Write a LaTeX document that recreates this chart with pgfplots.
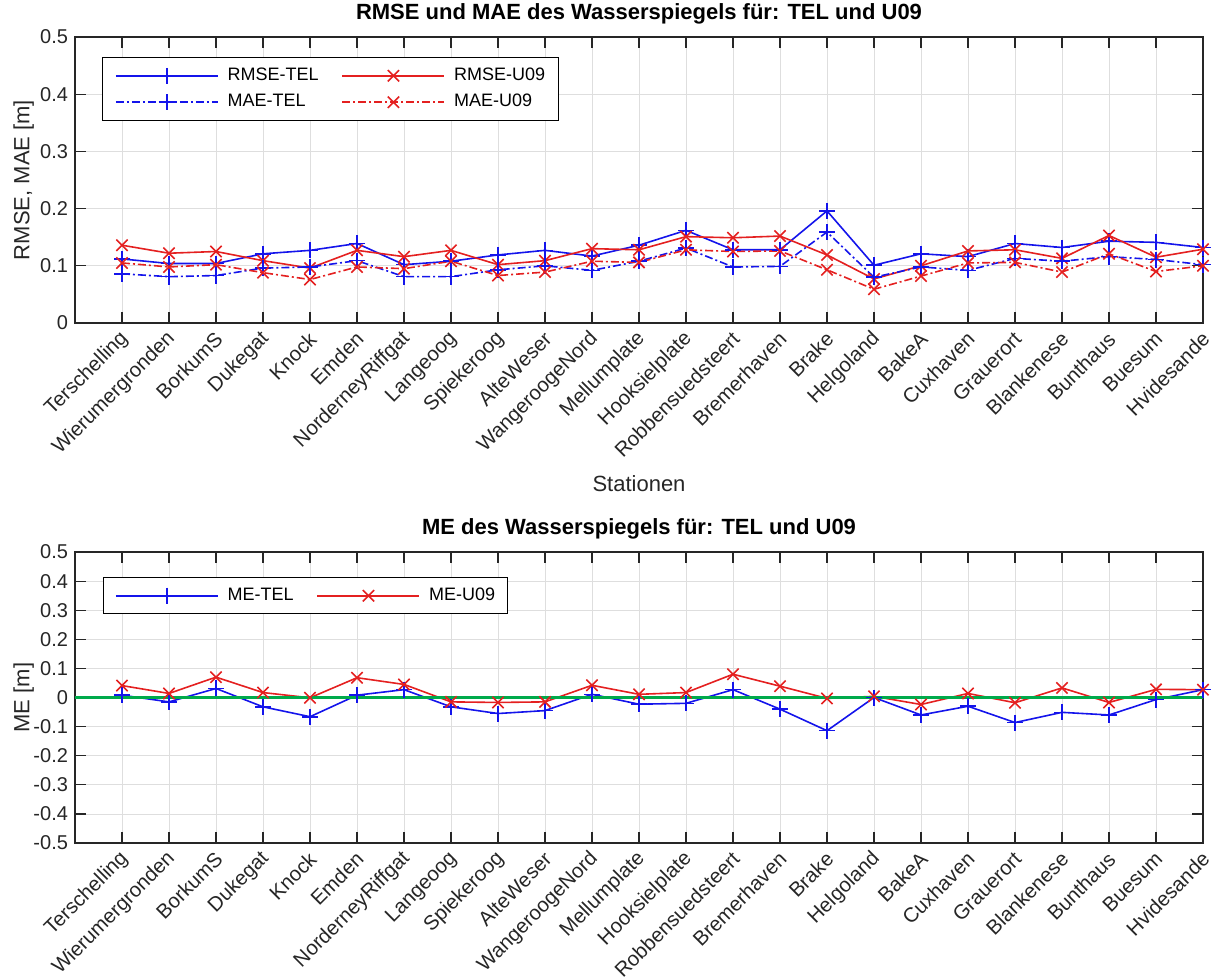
\documentclass[border=0pt]{standalone}
\usepackage{pgfplots}
\pgfplotsset{compat=1.18}
\usepackage{fontspec}
\setmainfont{Liberation Sans}

\definecolor{mblue}{RGB}{20,20,235}
\definecolor{mred}{RGB}{228,32,32}
\definecolor{mgreen}{RGB}{0,170,75}
\definecolor{axgray}{gray}{0.15}

\pgfplotsset{
  legstyle/.style={
    legend style={font=\fontsize{9}{10}\selectfont,
      anchor=north west, inner xsep=6pt, inner ysep=5pt, row sep=5pt,
      nodes={inner sep=0pt, anchor=west},
      /tikz/every odd column/.append style={column sep=4.5pt},
      /tikz/every even column/.append style={column sep=11.5pt}},
    legend cell align=left,
    legend columns=2,
  },
  stationaxis/.style={
    scale only axis, width=564pt,
    xmin=0, xmax=24,
    xtick={1,...,24},
    xticklabels={Terschelling,Wierumergronden,BorkumS,Dukegat,Knock,Emden,NorderneyRiffgat,Langeoog,Spiekeroog,AlteWeser,WangeroogeNord,Mellumplate,Hooksielplate,Robbensuedsteert,Bremerhaven,Brake,Helgoland,BakeA,Cuxhaven,Grauerort,Blankenese,Bunthaus,Buesum,Hvidesande},
    xticklabel style={rotate=45, anchor=east, yshift=-5.5pt, font=\fontsize{10.2}{12}\selectfont, text=axgray},
    yticklabel style={font=\fontsize{10}{12}\selectfont, text=axgray},
    grid=major,
    major grid style={draw=black!13, line width=0.4pt},
    axis line style={draw=axgray, line width=0.6pt},
    major tick length=5.5pt,
    every tick/.style={draw=axgray, line width=0.6pt},
    tick align=inside,
    title style={font=\bfseries\fontsize{11}{13}\selectfont, at={(0.5,1)}, anchor=base, yshift=3pt},
    ylabel style={font=\fontsize{11}{13}\selectfont, text=axgray, at={(axis description cs:-0.0455,0.5)}, anchor=center},
    legstyle,
  },
  % Overlay-Achse nur fuer eine Legendenzeile
  legrow/.style={scale only axis, width=564pt, height=143pt, hide axis,
    xmin=0, xmax=1, ymin=0, ymax=1, xtick=\empty, ytick=\empty,
    legstyle, legend style={draw=none, fill=none}},
  % Legendensymbole: lange Linie mit Marker in der Mitte
  leg tel/.style={legend image code/.code={%
    \draw[draw=mblue, line width=0.8pt] (0pt,0pt) -- (51pt,0pt);
    \path plot[mark=+, mark size=4pt, mark options={draw=mblue, line width=0.8pt, solid}] coordinates {(25.5pt,0pt)};}},
  leg u09/.style={legend image code/.code={%
    \draw[draw=mred, line width=0.8pt] (0pt,0pt) -- (51pt,0pt);
    \path plot[mark=x, mark size=4pt, mark options={draw=mred, line width=0.8pt, solid}] coordinates {(25.5pt,0pt)};}},
  leg tel dd/.style={legend image code/.code={%
    \draw[draw=mblue, line width=0.8pt, dash pattern=on 4pt off 1.5pt on 1pt off 1.5pt] (0pt,0pt) -- (51pt,0pt);
    \path plot[mark=+, mark size=4pt, mark options={draw=mblue, line width=0.8pt, solid}] coordinates {(25.5pt,0pt)};}},
  leg u09 dd/.style={legend image code/.code={%
    \draw[draw=mred, line width=0.8pt, dash pattern=on 4pt off 1.5pt on 1pt off 1.5pt] (0pt,0pt) -- (51pt,0pt);
    \path plot[mark=x, mark size=4pt, mark options={draw=mred, line width=0.8pt, solid}] coordinates {(25.5pt,0pt)};}},
}

\begin{document}
\begin{tikzpicture}
\useasboundingbox (-37.5pt,-328.5pt) rectangle (576pt,161.5pt);

% oben: RMSE und MAE
\begin{axis}[stationaxis, name=top, at={(0,0)}, anchor=south west, height=143pt,
  ymin=0, ymax=0.5,
  ytick={0,0.1,0.2,0.3,0.4,0.5}, yticklabels={0,0.1,0.2,0.3,0.4,0.5},
  title={RMSE und MAE des Wasserspiegels für: TEL und U09},
  xlabel={Stationen},
  xlabel style={font=\fontsize{11}{13}\selectfont, text=axgray, at={(axis description cs:0.5,-0.56)}, anchor=center},
  ylabel={RMSE, MAE [m]}]
\addplot[color=mblue, line width=0.8pt, mark=+, mark size=4pt, mark options={solid}] coordinates {
 (1,0.112) (2,0.104) (3,0.104) (4,0.121) (5,0.127) (6,0.139) (7,0.102) (8,0.108)
 (9,0.119) (10,0.127) (11,0.117) (12,0.136) (13,0.162) (14,0.128) (15,0.128) (16,0.196)
 (17,0.101) (18,0.121) (19,0.116) (20,0.139) (21,0.132) (22,0.143) (23,0.141) (24,0.132)};
\addplot[color=mred, line width=0.8pt, mark=x, mark size=4pt, mark options={solid}] coordinates {
 (1,0.136) (2,0.122) (3,0.125) (4,0.109) (5,0.096) (6,0.127) (7,0.116) (8,0.127)
 (9,0.102) (10,0.109) (11,0.130) (12,0.128) (13,0.151) (14,0.149) (15,0.152) (16,0.119)
 (17,0.077) (18,0.100) (19,0.126) (20,0.128) (21,0.113) (22,0.153) (23,0.115) (24,0.129)};
\addplot[color=mblue, line width=0.8pt, dash pattern=on 4pt off 1.5pt on 1pt off 1.5pt, mark=+, mark size=4pt, mark options={solid}] coordinates {
 (1,0.086) (2,0.081) (3,0.083) (4,0.096) (5,0.098) (6,0.109) (7,0.081) (8,0.081)
 (9,0.093) (10,0.100) (11,0.092) (12,0.108) (13,0.131) (14,0.098) (15,0.099) (16,0.159)
 (17,0.080) (18,0.098) (19,0.092) (20,0.113) (21,0.108) (22,0.116) (23,0.111) (24,0.102)};
\addplot[color=mred, line width=0.8pt, dash pattern=on 4pt off 1.5pt on 1pt off 1.5pt, mark=x, mark size=4pt, mark options={solid}] coordinates {
 (1,0.105) (2,0.098) (3,0.102) (4,0.088) (5,0.076) (6,0.098) (7,0.095) (8,0.108)
 (9,0.083) (10,0.089) (11,0.108) (12,0.106) (13,0.128) (14,0.125) (15,0.126) (16,0.093)
 (17,0.059) (18,0.082) (19,0.105) (20,0.106) (21,0.089) (22,0.121) (23,0.090) (24,0.100)};
\end{axis}

% Legendenrahmen oben, dann zwei einzeilige Legenden darueber
\draw[black, line width=0.4pt, fill=white]
  ([xshift=13.8pt,yshift=-10pt]top.north west) rectangle ([xshift=241.8pt,yshift=-41.5pt]top.north west);
\begin{axis}[legrow, at={(0,0)}, anchor=south west,
  legend style={at={(axis description cs:0.0245,0.9287)}}]
\addlegendimage{leg tel}\addlegendentry{\makebox[45.5pt][l]{RMSE-TEL}}
\addlegendimage{leg u09}\addlegendentry{RMSE-U09}
\end{axis}
\begin{axis}[legrow, at={(0,0)}, anchor=south west,
  legend style={at={(axis description cs:0.0245,0.8364)}}]
\addlegendimage{leg tel dd}\addlegendentry{\makebox[45.5pt][l]{MAE-TEL}}
\addlegendimage{leg u09 dd}\addlegendentry{MAE-U09}
\end{axis}

% unten: ME
\begin{axis}[stationaxis, name=bottom, at={(0,-260pt)}, anchor=south west, height=145.5pt,
  ymin=-0.5, ymax=0.5,
  ytick={-0.5,-0.4,-0.3,-0.2,-0.1,0,0.1,0.2,0.3,0.4,0.5},
  yticklabels={-0.5,-0.4,-0.3,-0.2,-0.1,0,0.1,0.2,0.3,0.4,0.5},
  title={ME des Wasserspiegels für: TEL und U09},
  ylabel={ME [m]},
  legend style={at={(axis description cs:0.0245,0.913)}}]
\addplot[forget plot, color=mblue, line width=0.8pt, mark=+, mark size=4pt, mark options={solid}] coordinates {
 (1,0.008) (2,-0.015) (3,0.031) (4,-0.032) (5,-0.066) (6,0.008) (7,0.027) (8,-0.032)
 (9,-0.055) (10,-0.045) (11,0.011) (12,-0.023) (13,-0.020) (14,0.027) (15,-0.040) (16,-0.114)
 (17,0.000) (18,-0.060) (19,-0.030) (20,-0.086) (21,-0.051) (22,-0.060) (23,-0.007) (24,0.027)};
\addplot[forget plot, color=mred, line width=0.8pt, mark=x, mark size=4pt, mark options={solid}] coordinates {
 (1,0.041) (2,0.014) (3,0.070) (4,0.017) (5,-0.001) (6,0.068) (7,0.045) (8,-0.015)
 (9,-0.017) (10,-0.015) (11,0.042) (12,0.011) (13,0.017) (14,0.080) (15,0.039) (16,-0.003)
 (17,0.004) (18,-0.024) (19,0.014) (20,-0.018) (21,0.033) (22,-0.017) (23,0.028) (24,0.027)};
\addplot[mgreen, line width=1.6pt, forget plot] coordinates {(0,0) (24,0)};
\addlegendimage{leg tel}\addlegendentry{ME-TEL}
\addlegendimage{leg u09}\addlegendentry{ME-U09}
\end{axis}
\end{tikzpicture}
\end{document}
